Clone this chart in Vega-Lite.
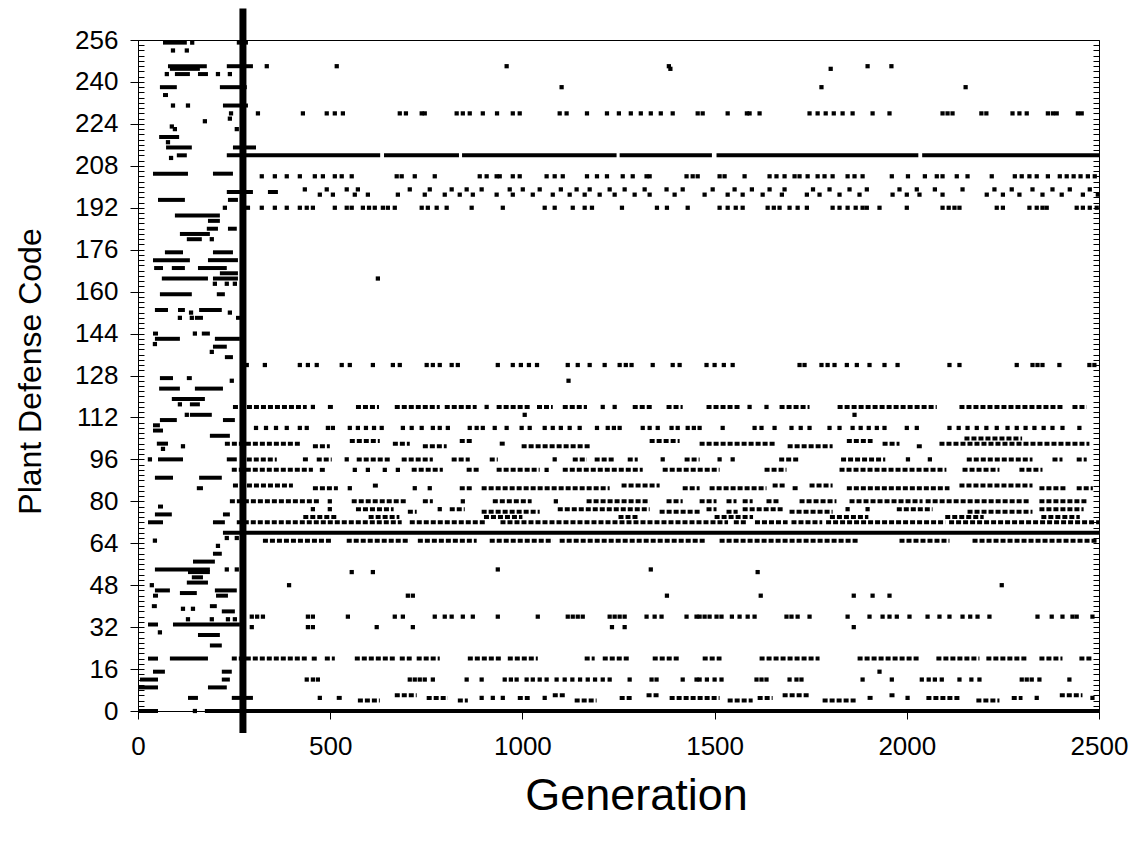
{
"$schema":"https://vega.github.io/schema/vega-lite/v6.json",
"width":961,"height":671,
"autosize":{"type":"none"},
"padding":{"left":138,"top":40,"right":33,"bottom":134},
"background":"white",
"config":{"view":{"stroke":"black","strokeWidth":1},"font":"Liberation Sans","axis":{"domainColor":"black","tickColor":"black","labelColor":"black","titleColor":"black","grid":false,"labelFont":"Liberation Sans","titleFont":"Liberation Sans","titleFontWeight":"normal"}},
"datasets":{
"solid":[
{"y":255,"a":65,"b":127},{"y":255,"a":257,"b":286},
{"y":246,"a":78,"b":179},{"y":246,"a":231,"b":299},
{"y":245,"a":83,"b":161},
{"y":243,"a":96,"b":135},{"y":243,"a":156,"b":182},
{"y":238,"a":57,"b":101},{"y":238,"a":213,"b":283},
{"y":235,"a":65,"b":78},
{"y":231,"a":221,"b":286},
{"y":219,"a":55,"b":107},
{"y":215,"a":73,"b":140},{"y":215,"a":247,"b":307},
{"y":212,"a":101,"b":127},{"y":212,"a":231,"b":630},{"y":212,"a":640,"b":835},{"y":212,"a":843,"b":1245},{"y":212,"a":1253,"b":1493},{"y":212,"a":1505,"b":2030},{"y":212,"a":2040,"b":2500},
{"y":205,"a":39,"b":130},{"y":205,"a":195,"b":247},
{"y":198,"a":231,"b":299},{"y":198,"a":338,"b":364},
{"y":195,"a":52,"b":122},{"y":195,"a":234,"b":260},
{"y":189,"a":96,"b":213},
{"y":187,"a":182,"b":213},
{"y":184,"a":179,"b":208},{"y":184,"a":234,"b":257},
{"y":182,"a":109,"b":187},
{"y":180,"a":127,"b":166},
{"y":175,"a":70,"b":117},{"y":175,"a":195,"b":247},
{"y":172,"a":39,"b":135},{"y":172,"a":182,"b":260},
{"y":169,"a":42,"b":65},{"y":169,"a":88,"b":122},{"y":169,"a":156,"b":231},
{"y":167,"a":213,"b":260},
{"y":165,"a":62,"b":182},{"y":165,"a":195,"b":260},
{"y":159,"a":57,"b":140},{"y":159,"a":205,"b":226},
{"y":153,"a":44,"b":78},{"y":153,"a":104,"b":122},{"y":153,"a":159,"b":218},
{"y":150,"a":148,"b":169},{"y":150,"a":255,"b":278},
{"y":144,"a":39,"b":52},{"y":144,"a":166,"b":187},
{"y":142,"a":44,"b":109},{"y":142,"a":200,"b":265},
{"y":139,"a":195,"b":231},
{"y":135,"a":226,"b":247},
{"y":127,"a":57,"b":91},{"y":127,"a":127,"b":140},
{"y":123,"a":55,"b":109},{"y":123,"a":148,"b":221},
{"y":119,"a":88,"b":174},
{"y":117,"a":135,"b":161},
{"y":113,"a":135,"b":192},
{"y":111,"a":57,"b":101},{"y":111,"a":221,"b":252},
{"y":109,"a":39,"b":57},{"y":107,"a":39,"b":65},
{"y":105,"a":187,"b":239},
{"y":102,"a":49,"b":78},
{"y":96,"a":52,"b":117},{"y":96,"a":231,"b":257},
{"y":89,"a":44,"b":91},{"y":89,"a":159,"b":218},
{"y":85,"a":153,"b":169},
{"y":78,"a":52,"b":65},
{"y":75,"a":44,"b":88},{"y":75,"a":221,"b":239},
{"y":72,"a":26,"b":65},{"y":72,"a":195,"b":226},
{"y":68,"a":221,"b":2500},
{"y":60,"a":195,"b":218},
{"y":57,"a":143,"b":200},
{"y":54,"a":44,"b":187},
{"y":53,"a":130,"b":187},
{"y":51,"a":140,"b":169},
{"y":49,"a":127,"b":182},
{"y":46,"a":44,"b":83},{"y":46,"a":200,"b":257},
{"y":45,"a":109,"b":153},
{"y":44,"a":39,"b":52},{"y":44,"a":203,"b":234},
{"y":40,"a":36,"b":49},{"y":40,"a":187,"b":205},
{"y":38,"a":218,"b":252},
{"y":33,"a":26,"b":52},{"y":33,"a":91,"b":265},
{"y":29,"a":156,"b":213},
{"y":25,"a":187,"b":218},
{"y":20,"a":26,"b":52},{"y":20,"a":83,"b":182},
{"y":15,"a":39,"b":70},{"y":15,"a":218,"b":244},
{"y":12,"a":5,"b":52},{"y":12,"a":218,"b":239},
{"y":9,"a":0,"b":52},{"y":9,"a":182,"b":231},
{"y":5,"a":130,"b":156},{"y":5,"a":244,"b":299},
{"y":0,"a":0,"b":52},{"y":0,"a":174,"b":2500}
],
"dashed":[
{"y":116,"a":247,"b":439},{"y":116,"a":494,"b":512},{"y":116,"a":567,"b":627},{"y":116,"a":668,"b":785},{"y":116,"a":798,"b":881},{"y":116,"a":933,"b":1019},{"y":116,"a":1038,"b":1079},{"y":116,"a":1105,"b":1168},{"y":116,"a":1287,"b":1339},{"y":116,"a":1375,"b":1417},{"y":116,"a":1479,"b":1570},{"y":116,"a":1669,"b":1747},{"y":116,"a":1820,"b":2078},{"y":116,"a":2137,"b":2405},{"y":116,"a":2431,"b":2468},
{"y":102,"a":226,"b":421},{"y":101,"a":455,"b":499},{"y":103,"a":551,"b":629},{"y":102,"a":663,"b":707},{"y":101,"a":741,"b":803},{"y":103,"a":837,"b":871},{"y":102,"a":941,"b":959},{"y":101,"a":998,"b":1175},{"y":103,"a":1331,"b":1409},{"y":102,"a":1461,"b":1661},{"y":101,"a":1690,"b":1807},{"y":103,"a":1844,"b":1911},{"y":102,"a":1937,"b":1981},{"y":101,"a":2026,"b":2041},{"y":102,"a":2085,"b":2475},{"y":104,"a":2150,"b":2300},
{"y":96,"a":283,"b":361},{"y":96,"a":429,"b":442},{"y":96,"a":465,"b":504},{"y":96,"a":569,"b":660},{"y":96,"a":686,"b":767},{"y":96,"a":816,"b":863},{"y":96,"a":915,"b":936},{"y":96,"a":1131,"b":1168},{"y":96,"a":1188,"b":1240},{"y":96,"a":1274,"b":1300},{"y":96,"a":1422,"b":1461},{"y":96,"a":1668,"b":1720},{"y":96,"a":1829,"b":1944},{"y":96,"a":2156,"b":2327},{"y":96,"a":2379,"b":2405},{"y":96,"a":2442,"b":2468},
{"y":92,"a":244,"b":455},{"y":92,"a":473,"b":486},{"y":92,"a":712,"b":793},{"y":92,"a":855,"b":889},{"y":92,"a":933,"b":1045},{"y":92,"a":1105,"b":1313},{"y":92,"a":1365,"b":1513},{"y":92,"a":1630,"b":1687},{"y":92,"a":1825,"b":2103},{"y":92,"a":2145,"b":2241},{"y":92,"a":2293,"b":2353},
{"y":86,"a":247,"b":403},{"y":85,"a":455,"b":520},{"y":86,"a":611,"b":629},{"y":85,"a":837,"b":871},{"y":85,"a":894,"b":1227},{"y":86,"a":1258,"b":1357},{"y":85,"a":1417,"b":1461},{"y":85,"a":1487,"b":1635},{"y":86,"a":1651,"b":1687},{"y":85,"a":1703,"b":1721},{"y":86,"a":1747,"b":1807},{"y":85,"a":1844,"b":2111},{"y":86,"a":2137,"b":2327},{"y":85,"a":2345,"b":2415},{"y":85,"a":2442,"b":2484},
{"y":80,"a":239,"b":473},{"y":80,"a":556,"b":699},{"y":80,"a":741,"b":767},{"y":80,"a":923,"b":1024},{"y":80,"a":1167,"b":1331},{"y":80,"a":1375,"b":1417},{"y":80,"a":1461,"b":1505},{"y":80,"a":1531,"b":1557},{"y":80,"a":1573,"b":1599},{"y":80,"a":1635,"b":1669},{"y":80,"a":1721,"b":1817},{"y":80,"a":1851,"b":2041},{"y":80,"a":2049,"b":2319},{"y":80,"a":2345,"b":2470},
{"y":77,"a":567,"b":665},{"y":76,"a":702,"b":725},{"y":77,"a":811,"b":850},{"y":76,"a":894,"b":1045},{"y":77,"a":1092,"b":1331},{"y":76,"a":1357,"b":1461},{"y":77,"a":1479,"b":1505},{"y":76,"a":1531,"b":1560},{"y":77,"a":1573,"b":1677},{"y":76,"a":1695,"b":1807},{"y":77,"a":1974,"b":2067},{"y":76,"a":2158,"b":2327},{"y":77,"a":2345,"b":2460},
{"y":74,"a":430,"b":520},{"y":74,"a":600,"b":680},{"y":74,"a":900,"b":1000},{"y":74,"a":1250,"b":1300},{"y":74,"a":1500,"b":1600},{"y":74,"a":1800,"b":1900},{"y":74,"a":2100,"b":2200},{"y":74,"a":2350,"b":2450},
{"y":72,"a":257,"b":686},{"y":72,"a":707,"b":905},{"y":72,"a":943,"b":1535},{"y":72,"a":1550,"b":1585},{"y":72,"a":1605,"b":1690},{"y":72,"a":1700,"b":1780},{"y":72,"a":1790,"b":2100},{"y":72,"a":2110,"b":2500},
{"y":65,"a":325,"b":507},{"y":65,"a":543,"b":707},{"y":65,"a":728,"b":881},{"y":65,"a":915,"b":1079},{"y":65,"a":1097,"b":1479},{"y":65,"a":1513,"b":1877},{"y":65,"a":1981,"b":2111},{"y":65,"a":2171,"b":2495},
{"y":20,"a":244,"b":439},{"y":20,"a":452,"b":468},{"y":20,"a":486,"b":512},{"y":20,"a":564,"b":668},{"y":20,"a":681,"b":712},{"y":20,"a":725,"b":785},{"y":20,"a":858,"b":949},{"y":20,"a":962,"b":1040},{"y":20,"a":1162,"b":1188},{"y":20,"a":1209,"b":1279},{"y":20,"a":1339,"b":1409},{"y":20,"a":1469,"b":1518},{"y":20,"a":1617,"b":1773},{"y":20,"a":1872,"b":2033},{"y":20,"a":2077,"b":2189},{"y":20,"a":2207,"b":2312},{"y":20,"a":2345,"b":2405},{"y":20,"a":2449,"b":2484},
{"y":5,"a":517,"b":533},{"y":4,"a":572,"b":629},{"y":6,"a":668,"b":725},{"y":5,"a":751,"b":806},{"y":4,"a":832,"b":858},{"y":5,"a":988,"b":1019},{"y":6,"a":1079,"b":1115},{"y":4,"a":1136,"b":1193},{"y":5,"a":1253,"b":1287},{"y":6,"a":1323,"b":1357},{"y":5,"a":1383,"b":1513},{"y":4,"a":1534,"b":1599},{"y":5,"a":1612,"b":1651},{"y":6,"a":1677,"b":1747},{"y":4,"a":1781,"b":1869},{"y":5,"a":1898,"b":1916},{"y":6,"a":1955,"b":1973},{"y":5,"a":2051,"b":2137},{"y":4,"a":2181,"b":2241},{"y":5,"a":2273,"b":2301},{"y":6,"a":2398,"b":2457}
],
"dots":[
{"y":255,"g":[141]},
{"y":252,"g":[91,127]},
{"y":246,"g":[335,517,959,1381,1898,1960]},
{"y":245,"g":[1385,1802]},
{"y":243,"g":[75,208,239]},
{"y":238,"g":[1102,1778,2153]},
{"y":231,"g":[91,130]},
{"y":228,"g":[242,312,429,491,512,533,681,697,738,746,829,845,863,897,934,975,993,1097,1115,1168,1220,1251,1282,1308,1334,1360,1391,1456,1469,1534,1584,1591,1617,1747,1768,1789,1810,1833,1859,1911,1955,2093,2106,2119,2194,2207,2275,2293,2312,2367,2380,2390,2445,2455]},
{"y":226,"g":[239]},
{"y":225,"g":[174]},
{"y":223,"g":[88]},
{"y":222,"g":[96,257]},
{"y":217,"g":[78]},
{"y":211,"g":[86]},
{"y":204,"g":[322,356,387,421,460,481,512,530,556,673,686,720,772,889,907,933,941,975,993,1063,1084,1105,1168,1194,1220,1261,1287,1323,1331,1427,1443,1456,1513,1526,1578,1643,1661,1682,1708,1721,1742,1768,1786,1807,1846,1864,1885,1961,2003,2047,2078,2093,2130,2158,2221,2281,2299,2319,2338,2367,2398,2416,2434,2452,2471,2489]},
{"y":199,"g":[434,491,543,572,707,759,816,855,894,967,1001,1045,1100,1141,1175,1227,1266,1318,1375,1417,1495,1552,1597,1643,1682,1756,1799,1851,1896,1981,2026,2073,2145,2228,2273,2327,2379,2424,2476]},
{"y":197,"g":[473,507,564,598,676,746,798,837,871,933,975,1027,1079,1123,1162,1201,1240,1292,1331,1396,1474,1534,1573,1625,1675,1740,1773,1825,1877,1963,2000,2033,2093,2208,2250,2293,2353,2403,2458,2497]},
{"y":192,"g":[226,286,322,356,387,421,439,455,512,543,556,585,601,616,637,650,668,738,754,777,803,868,949,1058,1084,1131,1162,1181,1259,1350,1376,1430,1513,1534,1555,1573,1638,1654,1669,1695,1716,1740,1807,1825,1846,1867,1885,1896,1929,2000,2093,2109,2124,2137,2234,2250,2319,2338,2353,2364,2442,2458,2476,2494]},
{"y":180,"g":[192]},
{"y":165,"g":[624]},
{"y":163,"g":[200,231,252]},
{"y":152,"g":[138,239]},
{"y":150,"g":[109,140]},
{"y":144,"g":[148]},
{"y":140,"g":[44]},
{"y":137,"g":[192]},
{"y":132,"g":[283,330,421,442,465,530,551,611,663,681,751,767,785,816,832,936,975,996,1017,1038,1118,1144,1175,1214,1253,1269,1284,1339,1391,1409,1479,1500,1524,1547,1721,1734,1778,1794,1812,1844,1870,1903,1942,1976,2111,2137,2286,2327,2340,2353,2397,2475,2488]},
{"y":126,"g":[244,1120]},
{"y":117,"g":[109]},
{"y":116,"g":[455,907,1209,1240,1591,1635]},
{"y":113,"g":[127,1006,1864]},
{"y":108,"g":[307,333,359,387,421,439,494,507,551,572,593,614,634,689,712,738,767,785,806,863,881,897,928,959,998,1019,1058,1079,1100,1123,1149,1194,1222,1238,1253,1313,1331,1352,1388,1404,1430,1446,1461,1521,1604,1622,1656,1700,1724,1747,1799,1825,1859,1880,1901,1922,1942,2000,2026,2111,2135,2158,2182,2207,2234,2262,2286,2309,2332,2356,2379,2405,2449]},
{"y":101,"g":[117]},
{"y":100,"g":[65]},
{"y":96,"g":[31,543,1084,1365,1513,1547,2003,2060]},
{"y":92,"g":[564,598,642,676,1063]},
{"y":85,"g":[551,720,759]},
{"y":80,"g":[499,845,1087]},
{"y":77,"g":[455,499,785,1846,1898]},
{"y":66,"g":[231,257]},
{"y":65,"g":[44]},
{"y":63,"g":[208]},
{"y":54,"g":[231,257,936,1334]},
{"y":53,"g":[556,611,1612]},
{"y":48,"g":[36,393,2247]},
{"y":44,"g":[702,715,1376,1620,1862,1911,1955]},
{"y":39,"g":[117,143]},
{"y":36,"g":[296,310,325,442,455,546,668,689,772,798,816,845,871,936,1040,1118,1131,1144,1157,1227,1240,1253,1266,1323,1344,1362,1427,1453,1461,1474,1487,1505,1518,1545,1565,1586,1604,1687,1700,1716,1747,1846,1903,1937,1955,1974,2007,2054,2085,2111,2145,2165,2184,2215,2340,2377,2405,2431,2442,2483]},
{"y":35,"g":[130,192,234,252]},
{"y":32,"g":[296,442,455,621,715,1233,1266,1862]},
{"y":30,"g":[57]},
{"y":15,"g":[1929]},
{"y":12,"g":[439,455,468,707,720,733,746,767,855,894,954,970,985,1011,1027,1045,1063,1089,1110,1130,1150,1170,1189,1209,1227,1279,1336,1349,1417,1453,1461,1480,1500,1518,1609,1622,1635,1695,1713,1726,1885,1961,2039,2057,2073,2091,2137,2168,2189,2299,2312,2325,2345,2423]},
{"y":5,"g":[473,894,923,949,1058,2002,2338,2483]},
{"y":0,"g":[148]}
],
"marker":[{"a":273,"lo":-8.4,"hi":268}]
},
"layer":[
{"data":{"name":"solid"},"mark":{"type":"rule","strokeWidth":4,"color":"black","strokeCap":"butt"},
 "encoding":{
  "x":{"field":"a","type":"quantitative","scale":{"domain":[0,2500],"nice":false,"zero":false},
   "axis":{"values":[0,500,1000,1500,2000,2500],"format":"d","tickSize":8,"labelFontSize":26,"labelPadding":14,"labelFlush":false,"labelOverlap":false,"title":"Generation","titleFontSize":45,"titlePadding":14,"titleX":498,"domain":true}},
  "x2":{"field":"b"},
  "y":{"field":"y","type":"quantitative","scale":{"domain":[0,256],"nice":false,"zero":false},
   "axis":{"orient":"left","values":[0,16,32,48,64,80,96,112,128,144,160,176,192,208,224,240,256],"tickSize":8,"labelFontSize":26,"labelPadding":12,"labelFlush":false,"labelOverlap":false,"title":"Plant Defense Code","titleFontSize":32,"titlePadding":27,"titleY":331,"domain":true}}
 }},
{"data":{"name":"dashed"},"mark":{"type":"rule","strokeWidth":4,"color":"black","strokeDash":[5,2],"strokeCap":"butt"},
 "encoding":{
  "x":{"field":"a","type":"quantitative",
   "axis":{"values":[0,500,1000,1500,2000,2500],"format":"d","tickSize":8,"labelFontSize":26,"labelPadding":14,"labelFlush":false,"labelOverlap":false,"title":"Generation","titleFontSize":45,"titlePadding":14,"titleX":498,"domain":true}},
  "x2":{"field":"b"},
  "y":{"field":"y","type":"quantitative",
   "axis":{"orient":"left","values":[0,2,4,6,8,10,12,14,16,18,20,22,24,26,28,30,32,34,36,38,40,42,44,46,48,50,52,54,56,58,60,62,64,66,68,70,72,74,76,78,80,82,84,86,88,90,92,94,96,98,100,102,104,106,108,110,112,114,116,118,120,122,124,126,128,130,132,134,136,138,140,142,144,146,148,150,152,154,156,158,160,162,164,166,168,170,172,174,176,178,180,182,184,186,188,190,192,194,196,198,200,202,204,206,208,210,212,214,216,218,220,222,224,226,228,230,232,234,236,238,240,242,244,246,248,250,252,254,256],"tickSize":-6,"labels":false,"domain":false,"title":null}}
 }},
{"data":{"name":"dots"},"transform":[{"flatten":["g"],"as":["a"]}],"mark":{"type":"square","size":18,"color":"black","opacity":1},
 "encoding":{
  "x":{"field":"a","type":"quantitative",
   "axis":{"values":[0,500,1000,1500,2000,2500],"format":"d","tickSize":8,"labelFontSize":26,"labelPadding":14,"labelFlush":false,"labelOverlap":false,"title":"Generation","titleFontSize":45,"titlePadding":14,"titleX":498,"domain":true}},
  "y":{"field":"y","type":"quantitative",
   "axis":{"orient":"right","values":[0,2,4,6,8,10,12,14,16,18,20,22,24,26,28,30,32,34,36,38,40,42,44,46,48,50,52,54,56,58,60,62,64,66,68,70,72,74,76,78,80,82,84,86,88,90,92,94,96,98,100,102,104,106,108,110,112,114,116,118,120,122,124,126,128,130,132,134,136,138,140,142,144,146,148,150,152,154,156,158,160,162,164,166,168,170,172,174,176,178,180,182,184,186,188,190,192,194,196,198,200,202,204,206,208,210,212,214,216,218,220,222,224,226,228,230,232,234,236,238,240,242,244,246,248,250,252,254,256],"tickSize":-6,"labels":false,"domain":false,"title":null}}
 }},
{"data":{"name":"marker"},"mark":{"type":"rule","strokeWidth":7,"color":"black"},
 "encoding":{
  "x":{"field":"a","type":"quantitative",
   "axis":{"values":[0,500,1000,1500,2000,2500],"format":"d","tickSize":8,"labelFontSize":26,"labelPadding":14,"labelFlush":false,"labelOverlap":false,"title":"Generation","titleFontSize":45,"titlePadding":14,"titleX":498,"domain":true}},
  "y":{"field":"lo","type":"quantitative","axis":null},
  "y2":{"field":"hi"}
 }}
],
"resolve":{"axis":{"y":"independent"}}
}
